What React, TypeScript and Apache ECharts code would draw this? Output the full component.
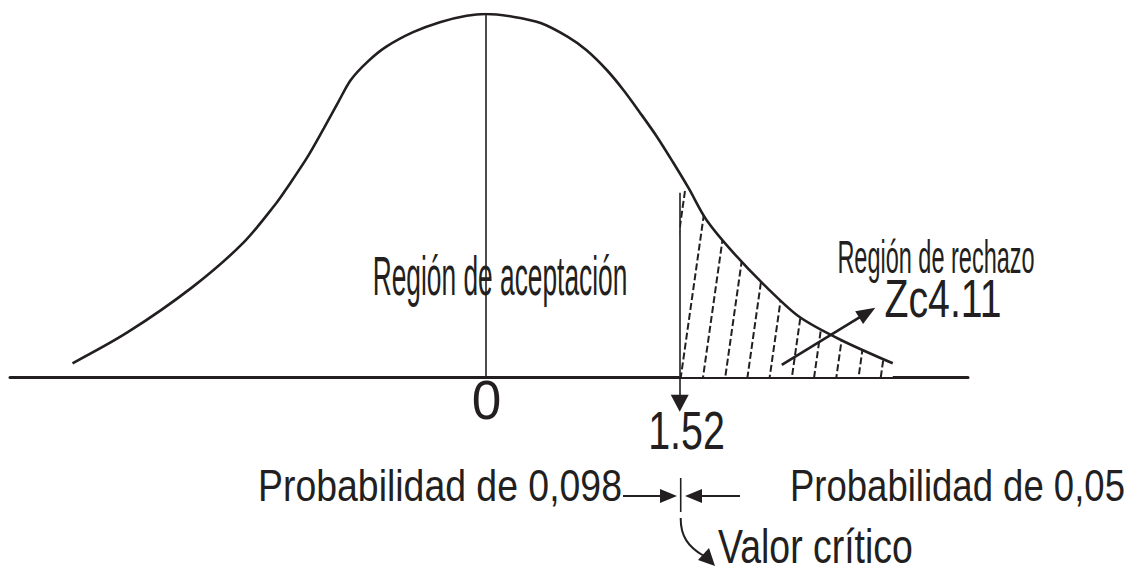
import React, { useEffect, useRef } from "react";
import * as echarts from "echarts";

// Normal curve (z value, relative density)
const CURVE_Z = [-3.24, -2.81, -2.3, -1.9, -1.64, -1.56, -1.4, -1.27, -1.16, -1.06, -0.93, -0.78, -0.57, -0.36, -0.15, 0, 0.21, 0.43, 0.64, 0.79, 0.95, 1.08, 1.21, 1.34, 1.47, 1.59, 1.73, 1.94, 2.2, 2.46, 2.78, 3.19];
const CURVE_D = [0.015, 0.049, 0.099, 0.148, 0.192, 0.208, 0.242, 0.274, 0.302, 0.327, 0.347, 0.364, 0.38, 0.391, 0.398, 0.4, 0.397, 0.39, 0.375, 0.36, 0.338, 0.316, 0.291, 0.265, 0.236, 0.208, 0.173, 0.137, 0.099, 0.066, 0.041, 0.015];

const CENTER_Z = 0;
const CRITICAL_Z = 1.52;
const CRITICAL_TOP_D = 0.203;
const CRITICAL_ARROW_END_D = -0.029;
const ZC_ARROW_FROM = [2.32, 0.0132];
const ZC_ARROW_TO = [2.99, 0.0709];

const X_MIN = -3.73;
const X_MAX = 3.78;
const Y_MIN = -0.215;
const Y_MAX = 0.4;

const LABEL_ACCEPT = "Región de aceptación";
const LABEL_REJECT = "Región de rechazo";
const LABEL_ZC = "Zc4.11";
const LABEL_ZERO = "0";
const LABEL_CRIT = "1.52";
const LABEL_PROB_LEFT = "Probabilidad de 0,098";
const LABEL_PROB_RIGHT = "Probabilidad de 0,05";
const LABEL_VALOR = "Valor crítico";

const INK = "#231f20";
const FONT = '"Liberation Sans", Arial, Helvetica, sans-serif';

function txt(text: string, x: number, y: number, size: number, scaleX: number, align: string) {
  return {
    type: "text",
    x,
    y,
    scaleX,
    z: 10,
    style: {
      text,
      fill: INK,
      fontSize: size,
      fontFamily: FONT,
      lineHeight: Math.round(size * 0.8),
      align,
      verticalAlign: "middle",
      textAlign: align,
      textVerticalAlign: "middle",
    },
  };
}

export default function App() {
  const ref = useRef<HTMLDivElement>(null);
  useEffect(() => {
    if (!ref.current) return;
    const chart = echarts.init(ref.current, undefined, { renderer: "svg" });
    const curveData = CURVE_Z.map((z, i) => [z, CURVE_D[i]]);
    const hatchData = [[CRITICAL_Z, CRITICAL_TOP_D]].concat(
      CURVE_Z.map((z, i) => [z, CURVE_D[i]]).filter((p) => p[0] > CRITICAL_Z)
    );
    const option: any = {
      animation: false,
      backgroundColor: "#ffffff",
      grid: { left: 10, right: 167, top: 14, bottom: 2 },
      xAxis: {
        type: "value",
        min: X_MIN,
        max: X_MAX,
        axisLine: { show: true, onZero: true, lineStyle: { color: INK, width: 3 } },
        axisTick: { show: false },
        axisLabel: { show: false },
        splitLine: { show: false },
      },
      yAxis: {
        type: "value",
        min: Y_MIN,
        max: Y_MAX,
        show: false,
        splitLine: { show: false },
      },
      series: [
        {
          type: "line",
          data: hatchData,
          smooth: 0.3,
          symbol: "none",
          silent: true,
          z: 1,
          lineStyle: { width: 0 },
          itemStyle: {
            color: INK,
            decal: {
              symbol: "rect",
              symbolSize: 1,
              color: INK,
              backgroundColor: "rgba(0,0,0,0)",
              dashArrayX: [7, 2.5],
              dashArrayY: [1.7, 20],
              rotation: -1.43,
            },
          },
          areaStyle: { color: "#ffffff", opacity: 1 },
        },
        {
          type: "line",
          data: curveData,
          smooth: 0.3,
          symbol: "none",
          silent: true,
          z: 3,
          lineStyle: { color: INK, width: 2.6 },
          markLine: {
            silent: true,
            animation: false,
            label: { show: false },
            emphasis: { disabled: true },
            data: [
              [
                { coord: [CENTER_Z, 0], symbol: "none", lineStyle: { color: INK, width: 1.6, type: "solid" } },
                { coord: [CENTER_Z, Y_MAX], symbol: "none" },
              ],
              [
                { coord: [CRITICAL_Z, CRITICAL_TOP_D], symbol: "none", lineStyle: { color: INK, width: 1.6, type: "solid" } },
                { coord: [CRITICAL_Z, CRITICAL_ARROW_END_D], symbol: "triangle", symbolSize: [18, 17] },
              ],
              [
                { coord: ZC_ARROW_FROM, symbol: "none", lineStyle: { color: INK, width: 2.6, type: "solid" } },
                { coord: ZC_ARROW_TO, symbol: "triangle", symbolSize: [15, 19] },
              ],
            ],
          },
        },
      ],
      graphic: [
        txt(LABEL_ACCEPT, 500, 275, 56, 0.47, "center"),
        txt(LABEL_REJECT, 936, 257, 47, 0.5, "center"),
        txt(LABEL_ZC, 943, 299, 53, 0.74, "center"),
        txt(LABEL_ZERO, 486.5, 400, 56, 0.95, "center"),
        txt(LABEL_CRIT, 686.5, 430, 54, 0.73, "center"),
        txt(LABEL_PROB_LEFT, 440, 486, 44, 0.85, "center"),
        txt(LABEL_PROB_RIGHT, 790, 486, 44, 0.83, "left"),
        txt(LABEL_VALOR, 718, 546, 48, 0.78, "left"),
        { type: "line", z: 10, shape: { x1: 623, y1: 496, x2: 662, y2: 496 }, style: { stroke: INK, lineWidth: 2.2 } },
        { type: "polygon", z: 10, shape: { points: [[660, 489], [677, 496], [660, 503]] }, style: { fill: INK } },
        { type: "line", z: 10, shape: { x1: 680.7, y1: 478, x2: 680.7, y2: 512 }, style: { stroke: INK, lineWidth: 1.6 } },
        { type: "polygon", z: 10, shape: { points: [[685, 496], [702, 489], [702, 503]] }, style: { fill: INK } },
        { type: "line", z: 10, shape: { x1: 700, y1: 496, x2: 740, y2: 496 }, style: { stroke: INK, lineWidth: 2.2 } },
        {
          type: "bezierCurve",
          z: 10,
          shape: { x1: 680.7, y1: 518, cpx1: 680.5, cpy1: 536, cpx2: 688, cpy2: 547, x2: 704, y2: 556 },
          style: { stroke: INK, lineWidth: 2, fill: null },
        },
        { type: "polygon", z: 10, shape: { points: [[715, 566], [709, 548], [698, 560]] }, style: { fill: INK } },
      ],
    };
    chart.setOption(option);
    return () => chart.dispose();
  }, []);
  return (
    <div
      ref={ref}
      style={{ position: "absolute", left: 0, top: 0, width: 1135, height: 574, background: "#fff" }}
    />
  );
}
